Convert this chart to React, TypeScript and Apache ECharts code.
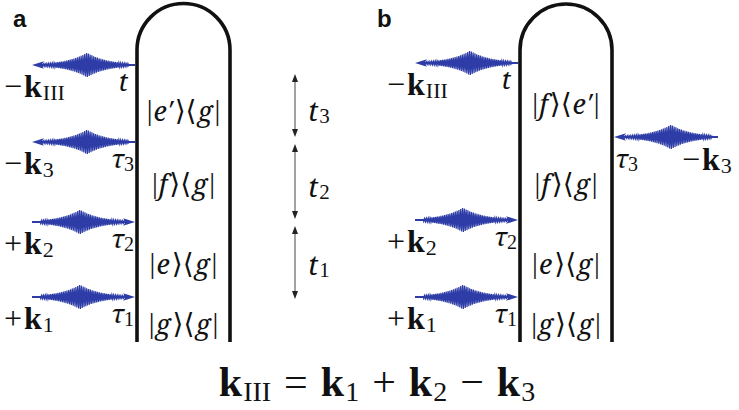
import React, { useEffect, useRef } from "react";
import * as echarts from "echarts";

// ---- content (semantic values) ----
const panelLetters = ["a", "b"];
const fieldSigns = ["−", "−", "+", "+"];
const fieldSubs = ["III", "3", "2", "1"];
const timeSymbols = ["t", "τ", "τ", "τ"];
const timeSubs = ["", "3", "2", "1"];
const ketsA = ["e′", "f", "e", "g"];
const brasA = ["g", "g", "g", "g"];
const ketsB = ["f", "f", "e", "g"];
const brasB = ["e′", "g", "g", "g"];
const sidesA = ["left", "left", "left", "left"];
const sidesB = ["left", "right", "left", "left"];
const intervalSubs = ["3", "2", "1"];
const equationSubs = ["III", "1", "2", "3"];
const equationOps = ["=", "+", "−"];

// ---- layout / style ----
const BLUE = "#2d3ca6";
const INK = "#111";
const SERIF = "'Liberation Serif', 'DejaVu Serif', serif";
const ITAL = "'Noto Serif', 'Liberation Serif', 'DejaVu Serif', serif";
const SANS = "'Liberation Sans', 'DejaVu Sans', sans-serif";

type Part = { t: string; size: number; weight?: string; style?: string; dy?: number; gap?: number; family?: string };

let _ctx: CanvasRenderingContext2D | null = null;
function famOf(p: Part) {
  return p.family || (p.style === "italic" ? ITAL : SERIF);
}
function fontStr(p: Part) {
  const pre = (p.style === "italic" ? "italic " : "") + (p.weight === "bold" ? "bold " : "");
  return `${pre}${p.size}px ${famOf(p)}`;
}
function measure(p: Part) {
  if (!_ctx) _ctx = document.createElement("canvas").getContext("2d");
  _ctx!.font = fontStr(p);
  return _ctx!.measureText(p.t).width;
}
function compose(x: number, y: number, parts: Part[], align: "left" | "center" | "right" = "left") {
  const ws = parts.map(measure);
  let total = 0;
  parts.forEach((p, i) => { total += ws[i] + (i < parts.length - 1 ? p.gap || 0 : 0); });
  let cx = align === "left" ? x : align === "center" ? x - total / 2 : x - total;
  const els: any[] = [];
  parts.forEach((p, i) => {
    if (p.t) {
      els.push({
        type: "text", x: cx, y: y + (p.dy || 0), silent: true,
        style: {
          text: p.t, fontSize: p.size, fontFamily: famOf(p),
          fontStyle: p.style || "normal", fontWeight: p.weight || "normal",
          fill: INK, textAlign: "left", textVerticalAlign: "middle",
        },
      });
    }
    cx += ws[i] + (p.gap || 0);
  });
  return els;
}

function arrowHead(x: number, y: number, dir: number, color: string, len = 12, hw = 3.8) {
  return {
    type: "polygon", silent: true,
    shape: { points: [[x, y], [x - dir * len, y - hw], [x - dir * len * 0.75, y], [x - dir * len, y + hw]] },
    style: { fill: color },
  };
}

function pulse(x0: number, x1: number, y: number, xc: number, dir: number, amp = 12.5) {
  const pts: number[][] = [];
  const lo = Math.min(x0, x1) + 8, hi = Math.max(x0, x1) - 6;
  for (let x = xc - 50; x <= xc + 50; x += 0.3) {
    if (x < lo || x > hi) continue;
    const env = Math.exp(-Math.abs(x - xc) / 20);
    pts.push([x, y + amp * env * Math.sin((2 * Math.PI * (x - xc)) / 1.8)]);
  }
  const head = dir < 0 ? Math.min(x0, x1) : Math.max(x0, x1);
  const tail = dir < 0 ? Math.max(x0, x1) : Math.min(x0, x1);
  return [
    { type: "line", silent: true, shape: { x1: tail, y1: y, x2: head - dir * 6, y2: y }, style: { stroke: BLUE, lineWidth: 2 } },
    { type: "polyline", silent: true, shape: { points: pts }, style: { stroke: BLUE, lineWidth: 1.2, fill: null } },
    arrowHead(head, y, dir, BLUE),
  ];
}

function stateLabel(x: number, y: number, ket: string, bra: string) {
  const s = 27;
  return compose(x, y, [
    { t: "|", size: s + 2, gap: 1 },
    { t: ket, size: s, style: "italic", gap: 2 },
    { t: "⟩⟨", size: s + 1, gap: 1 },
    { t: bra, size: s, style: "italic", gap: 2 },
    { t: "|", size: s + 2 },
  ], "center");
}

function diagram(railL: number, railR: number, rowsY: number[], pulsesY: number[], kets: string[], bras: string[], sides: string[]) {
  const els: any[] = [];
  const cx = (railL + railR) / 2, r = (railR - railL) / 2, cy = 50, bottom = 342;
  const rail = { stroke: INK, lineWidth: 3.6, fill: null };
  els.push({ type: "arc", silent: true, shape: { cx, cy, r, startAngle: Math.PI, endAngle: Math.PI * 2 }, style: rail });
  els.push({ type: "line", silent: true, shape: { x1: railL, y1: cy, x2: railL, y2: bottom }, style: rail });
  els.push({ type: "line", silent: true, shape: { x1: railR, y1: cy, x2: railR, y2: bottom }, style: rail });

  kets.forEach((k, i) => els.push(...stateLabel(cx, rowsY[i], k, bras[i])));

  fieldSigns.forEach((sign, i) => {
    const y = pulsesY[i];
    const dir = sign === "−" ? -1 : 1;
    const left = sides[i] === "left";
    const railX = left ? railL - 2 : railR + 2;
    const farX = left ? railX - 103 : railX + 104;
    const xc = left ? railX - (dir < 0 ? 48 : 55) : railX + 57;
    els.push(...pulse(farX, railX, y, xc, dir));

    const field: Part[] = [
      { t: sign, size: 32, gap: 2 },
      { t: "k", size: 32, weight: "bold", gap: 1 },
      { t: fieldSubs[i], size: 22, dy: 6 },
    ];
    if (left) els.push(...compose(railL - 133, y + 21, field, "left"));
    else els.push(...compose(railR + 70, y + 22, field, "left"));

    const time: Part[] = [
      { t: timeSymbols[i], size: 26, style: "italic" },
      { t: timeSubs[i], size: 20, dy: 6 },
    ];
    if (left) els.push(...compose(railL - (timeSubs[i] ? 3 : 9), y + 16, time, "right"));
    else els.push(...compose(railR + 3, y + 21, time, "left"));
  });
  return els;
}

export default function App() {
  const ref = useRef<HTMLDivElement>(null);
  useEffect(() => {
    if (!ref.current) return;
    const chart = echarts.init(ref.current, null, { renderer: "svg" });
    const els: any[] = [];

    [13, 377].forEach((x, i) =>
      els.push({ type: "text", x, y: 18, silent: true, style: { text: panelLetters[i], fontSize: 24, fontWeight: "bold", fontFamily: SANS, fill: INK, textVerticalAlign: "middle" } })
    );

    els.push(...diagram(137, 230, [110, 183, 263, 323], [65, 142, 222, 297], ketsA, brasA, sidesA));
    els.push(...diagram(520, 612, [103, 183, 263, 323], [63, 137, 220, 297], ketsB, brasB, sidesB));

    // time intervals
    const ax = 295;
    const segs = [[74, 137], [144, 219], [226, 299]];
    const labY = [110, 186, 264];
    segs.forEach(([a, b], i) => {
      els.push({ type: "line", silent: true, shape: { x1: ax, y1: a + 3, x2: ax, y2: b - 3 }, style: { stroke: "#8a8a8a", lineWidth: 1.6 } });
      els.push({ type: "polygon", silent: true, shape: { points: [[ax, a], [ax - 3, a + 8], [ax + 3, a + 8]] }, style: { fill: "#222" } });
      els.push({ type: "polygon", silent: true, shape: { points: [[ax, b], [ax - 3, b - 8], [ax + 3, b - 8]] }, style: { fill: "#222" } });
      els.push(...compose(308, labY[i], [
        { t: "t", size: 28, style: "italic", gap: 1 },
        { t: intervalSubs[i], size: 21, dy: 6 },
      ]));
    });

    // equation
    const eq: Part[] = [];
    equationSubs.forEach((s, i) => {
      eq.push({ t: "k", size: 42, weight: "bold", gap: 1 });
      eq.push({ t: s, size: 28, dy: 9, gap: 13 });
      if (i < equationOps.length) eq.push({ t: equationOps[i], size: 42, gap: 13 });
    });
    els.push(...compose(377, 382, eq, "center"));

    chart.setOption({ animation: false, backgroundColor: "#fff", graphic: { elements: els } });
    return () => chart.dispose();
  }, []);
  return <div ref={ref} style={{ position: "absolute", left: 0, top: 0, width: 739, height: 410, background: "#fff" }} />;
}
